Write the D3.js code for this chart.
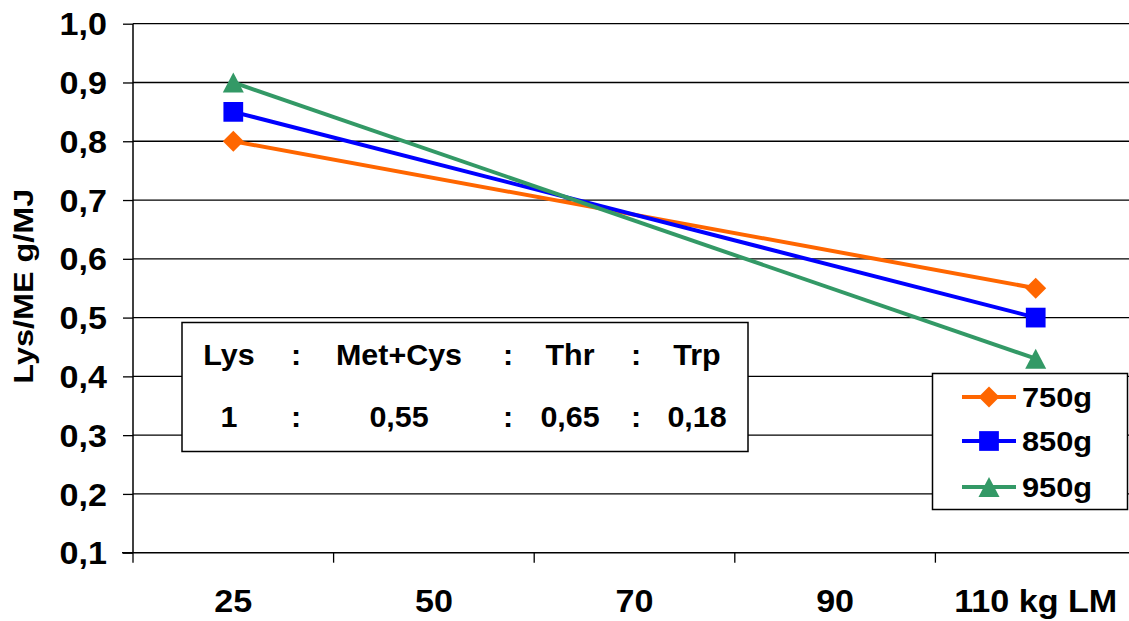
<!DOCTYPE html>
<html>
<head>
<meta charset="utf-8">
<script src="https://cdn.jsdelivr.net/npm/d3@7"></script>
<style>
  html, body { margin: 0; padding: 0; background: #fff; }
  svg { display: block; }
  text { font-family: "Liberation Sans", Arial, sans-serif; font-weight: bold; fill: #000; }
</style>
</head>
<body>
<svg id="chart" width="1129" height="621"></svg>
<script>
// ---- data ----
const categories = ["25", "50", "70", "90", "110 kg LM"];
const seriesNames = ["750g", "850g", "950g"];
const seriesColors = ["#FF6600", "#0000FF", "#339966"];
const seriesSymbols = ["diamond", "square", "triangle"];
const pointCategories = ["25", "110 kg LM"];
const values750 = [0.80, 0.55];
const values850 = [0.85, 0.50];
const values950 = [0.90, 0.43];
const yTicks = [0.1, 0.2, 0.3, 0.4, 0.5, 0.6, 0.7, 0.8, 0.9, 1.0];
const yTitle = "Lys/ME g/MJ";
const tableHeader = ["Lys", ":", "Met+Cys", ":", "Thr", ":", "Trp"];
const tableValues = ["1", ":", "0,55", ":", "0,65", ":", "0,18"];

const seriesValues = [values750, values850, values950];

// ---- layout ----
const svg = d3.select("#chart");
const plotLeft = 133, plotTop = 23.7, plotBottom = 552.7, bandW = 200.6;
const x = d3.scaleBand().domain(categories).range([plotLeft, plotLeft + bandW * categories.length]);
const y = d3.scaleLinear().domain([0.1, 1.0]).range([plotBottom, plotTop]);
const fmt = v => d3.format(".1f")(v).replace(".", ",");
const SX = 1.1; // horizontal glyph stretch of the reference font

// marker shapes (Excel style)
const diamondSym = { draw(ctx, size) { const r = Math.sqrt(size) / 2; ctx.moveTo(0, -r); ctx.lineTo(r, 0); ctx.lineTo(0, r); ctx.lineTo(-r, 0); ctx.closePath(); } };
const triangleSym = { draw(ctx, size) { const h = Math.sqrt(size) / 2; ctx.moveTo(0, -h); ctx.lineTo(h * 1.05, h); ctx.lineTo(-h * 1.05, h); ctx.closePath(); } };
const symType = { diamond: diamondSym, square: d3.symbolSquare, triangle: triangleSym };
const symSize = { diamond: 440, square: 390, triangle: 400 };

// gridlines
svg.append("g").selectAll("line").data(yTicks.filter(t => t > 0.1)).join("line")
  .attr("x1", plotLeft).attr("x2", 1129)
  .attr("y1", d => y(d)).attr("y2", d => y(d))
  .attr("stroke", "#000").attr("stroke-width", 1.3);

// y axis
const yAxis = svg.append("g").attr("transform", `translate(${plotLeft},0)`)
  .call(d3.axisLeft(y).tickValues(yTicks).tickSize(10).tickPadding(0).tickFormat(fmt));
yAxis.select(".domain").attr("stroke", "#000").attr("stroke-width", 1.5).attr("d", `M0,${plotTop}V${plotBottom}`);
yAxis.selectAll(".tick line").attr("stroke", "#000").attr("stroke-width", 1.3);
yAxis.selectAll(".tick text").remove();
yAxis.selectAll(".tick").append("text")
  .attr("transform", `translate(-26,0) scale(${SX},1)`)
  .attr("text-anchor", "end").attr("dy", "0.36em")
  .style("font-size", "31px").text(d => fmt(d));

// x axis
const xAxis = svg.append("g").attr("transform", `translate(0,${plotBottom})`)
  .call(d3.axisBottom(x).tickSize(0).tickFormat(""));
xAxis.select(".domain").attr("stroke", "#000").attr("stroke-width", 1.5)
  .attr("d", `M${plotLeft - 11},0H1129`);
svg.append("g").selectAll("line").data(categories).join("line")
  .attr("x1", d => x(d)).attr("x2", d => x(d))
  .attr("y1", plotBottom).attr("y2", plotBottom + 10)
  .attr("stroke", "#000").attr("stroke-width", 1.3);
svg.append("g").selectAll("text").data(categories).join("text")
  .attr("transform", d => `translate(${x(d) + x.bandwidth() / 2},${plotBottom + 59}) scale(${SX},1)`)
  .attr("text-anchor", "middle").style("font-size", "31px").text(d => d);

// y title
svg.append("text")
  .attr("transform", `translate(33,${(plotTop + plotBottom) / 2 - 2}) rotate(-90) scale(1.2,1)`)
  .attr("text-anchor", "middle").style("font-size", "27px").text(yTitle);

// series lines and markers
const cx = c => x(c) + x.bandwidth() / 2;
const line = d3.line().x(d => cx(d.c)).y(d => y(d.v));
seriesNames.forEach((name, i) => {
  const pts = pointCategories.map((c, j) => ({ c, v: seriesValues[i][j] }));
  svg.append("path").datum(pts).attr("d", line)
    .attr("fill", "none").attr("stroke", seriesColors[i]).attr("stroke-width", 4);
});
seriesNames.forEach((name, i) => {
  const pts = pointCategories.map((c, j) => ({ c, v: seriesValues[i][j] }));
  svg.append("g").selectAll("path").data(pts).join("path")
    .attr("transform", d => `translate(${cx(d.c)},${y(d.v)})`)
    .attr("d", d3.symbol().type(symType[seriesSymbols[i]]).size(symSize[seriesSymbols[i]]))
    .attr("fill", seriesColors[i]);
});

// ratio table box
const tableCols = [229, 296, 399, 508, 570, 636, 697];
const tbl = svg.append("g");
tbl.append("rect").attr("x", 182).attr("y", 322.5).attr("width", 566).attr("height", 129)
  .attr("fill", "#fff").attr("stroke", "#000").attr("stroke-width", 1.5);
[tableHeader, tableValues].forEach((row, r) => {
  tbl.append("g").selectAll("text").data(row).join("text")
    .attr("transform", (d, k) => `translate(${tableCols[k]},${365 + r * 62}) scale(1.05,1)`)
    .attr("text-anchor", "middle").style("font-size", "29px").text(d => d);
});

// legend
const lg = svg.append("g");
lg.append("rect").attr("x", 932.5).attr("y", 373.5).attr("width", 195).attr("height", 136)
  .attr("fill", "#fff").attr("stroke", "#000").attr("stroke-width", 1.5);
const legendRows = [397, 441, 487];
seriesNames.forEach((name, i) => {
  const ly = legendRows[i];
  lg.append("line").attr("x1", 962).attr("x2", 1016).attr("y1", ly).attr("y2", ly)
    .attr("stroke", seriesColors[i]).attr("stroke-width", 4);
  lg.append("path")
    .attr("transform", `translate(989,${ly})`)
    .attr("d", d3.symbol().type(symType[seriesSymbols[i]]).size(symSize[seriesSymbols[i]]))
    .attr("fill", seriesColors[i]);
  lg.append("text").attr("transform", `translate(1022,${ly + 10}) scale(${SX},1)`)
    .style("font-size", "28px").text(name);
});
</script>
</body>
</html>
